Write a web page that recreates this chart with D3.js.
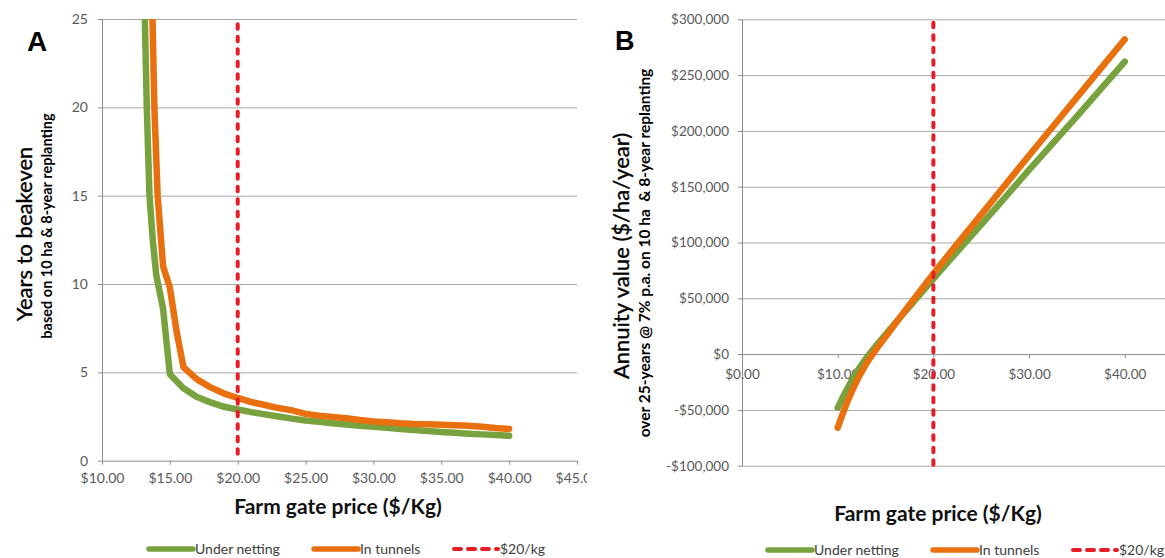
<!DOCTYPE html>
<html>
<head>
<meta charset="utf-8">
<script src="https://cdn.jsdelivr.net/npm/d3@7"></script>
<style>
body { margin: 0; background: #fff; }
svg { display: block; }
</style>
</head>
<body>
<script>
// panel A: years to breakeven
var priceNettingA = [13.1, 13.3, 13.5, 13.75, 14, 14.5, 15, 16, 17, 18, 19, 20, 21, 22, 23, 24, 25, 26, 27, 28, 29, 30, 31, 32, 33, 34, 35, 36, 37, 38, 39, 40];
var yearsNettingA = [27, 20, 15, 12.4, 10.5, 8.6, 4.9, 4.1, 3.6, 3.3, 3.05, 2.9, 2.75, 2.62, 2.5, 2.38, 2.28, 2.2, 2.12, 2.05, 1.98, 1.92, 1.86, 1.8, 1.74, 1.68, 1.63, 1.58, 1.53, 1.49, 1.45, 1.41];
var priceTunnelsA = [13.6, 13.72, 13.86, 14.1, 14.3, 14.5, 15, 15.5, 16, 17, 18, 19, 20, 21, 22, 23, 24, 25, 26, 27, 28, 29, 30, 31, 32, 33, 34, 35, 36, 37, 38, 39, 40];
var yearsTunnelsA = [28, 25, 20, 15, 13, 11, 9.8, 7.3, 5.3, 4.6, 4.15, 3.8, 3.55, 3.32, 3.15, 2.98, 2.85, 2.65, 2.55, 2.48, 2.4, 2.3, 2.22, 2.18, 2.12, 2.08, 2.06, 2.04, 2.01, 1.98, 1.92, 1.85, 1.8];

// panel B: annuity value
var priceB = [10, 11, 12, 13, 14, 15, 20, 25, 30, 35, 40];
var annuityNetting = [-48000, -31000, -16000, -3500, 7500, 17500, 67500, 116000, 165000, 213000, 262000];
var annuityTunnels = [-66000, -43000, -24000, -8500, 4000, 15500, 72000, 125000, 178000, 230000, 282000];

var ticksAx = [10, 15, 20, 25, 30, 35, 40, 45];
var ticksAy = [0, 5, 10, 15, 20, 25];
var ticksBx = [0, 10, 20, 30, 40];
var ticksBy = [-100000, -50000, 0, 50000, 100000, 150000, 200000, 250000, 300000];

var seriesNames = ["Under netting", "In tunnels", "$20/kg"];
var refPrice = 20;

var green = "#77a23e", orange = "#e8700e", red = "#e81c24";
var font = "Lato, 'Open Sans', sans-serif";

var svg = d3.select("body").append("svg")
	.attr("width", 1165)
	.attr("height", 558)
	.style("font-family", font);

function pairs(xs, ys) {
	return xs.map(function(x, i) { return [x, ys[i]]; });
}

function styleAxis(g, size) {
	g.select(".domain").attr("stroke", "#8c8c8c");
	g.selectAll(".tick line").attr("stroke", "#8c8c8c");
	g.selectAll(".tick text")
		.attr("fill", "#595959")
		.style("font-size", size + "px")
		.style("font-family", font);
}

function drawLegend(y, x0) {
	var items = [
		{name: seriesNames[0], color: green, dx: 0},
		{name: seriesNames[1], color: orange, dx: 165},
		{name: seriesNames[2], color: red, dx: 305, dash: true}
	];
	items.forEach(function(it) {
		var l = svg.append("line")
			.attr("x1", x0 + it.dx).attr("x2", x0 + it.dx + 44)
			.attr("y1", y).attr("y2", y)
			.attr("stroke", it.color)
			.attr("stroke-width", it.dash ? 4 : 5.5)
			.attr("stroke-linecap", "round");
		if (it.dash) l.attr("stroke-dasharray", "7,7");
		svg.append("text")
			.attr("x", x0 + it.dx + 46)
			.attr("y", y + 5)
			.attr("fill", "#404040")
			.style("font-size", "14px")
			.text(it.name);
	});
}

// ---------- panel A ----------
var xA = d3.scaleLinear().domain([10, 45]).range([102, 577]);
var yA = d3.scaleLinear().domain([0, 25]).range([460.7, 19]);

svg.append("clipPath").attr("id", "clipA")
	.append("rect").attr("x", 60).attr("y", 19).attr("width", 520).attr("height", 480);
svg.append("clipPath").attr("id", "clipAtext")
	.append("rect").attr("x", 60).attr("y", 0).attr("width", 527).attr("height", 500);

svg.append("g")
	.attr("transform", "translate(102,0)")
	.call(d3.axisLeft(yA).tickValues(ticksAy.slice(1)).tickSize(-475).tickFormat(""))
	.call(function(g) {
		g.select(".domain").remove();
		g.selectAll(".tick line").attr("stroke", "#a8a8a8");
	});

var gAx = svg.append("g")
	.attr("clip-path", "url(#clipAtext)")
	.append("g")
	.attr("transform", "translate(0," + yA(0) + ")")
	.call(d3.axisBottom(xA).tickValues(ticksAx).tickSize(4).tickSizeOuter(0).tickPadding(8)
		.tickFormat(function(d) { return "$" + d3.format(".2f")(d); }));
styleAxis(gAx, 14);

var gAy = svg.append("g")
	.attr("transform", "translate(102,0)")
	.call(d3.axisLeft(yA).tickValues(ticksAy).tickSize(4).tickSizeOuter(0).tickPadding(10));
styleAxis(gAy, 14);

var lineA = d3.line().x(function(d) { return xA(d[0]); }).y(function(d) { return yA(d[1]); });

var plotA = svg.append("g").attr("clip-path", "url(#clipA)");
plotA.append("path")
	.datum(pairs(priceNettingA, yearsNettingA))
	.attr("d", lineA)
	.attr("fill", "none").attr("stroke", green).attr("stroke-width", 6.5)
	.attr("stroke-linejoin", "round").attr("stroke-linecap", "round");
plotA.append("path")
	.datum(pairs(priceTunnelsA, yearsTunnelsA))
	.attr("d", lineA)
	.attr("fill", "none").attr("stroke", orange).attr("stroke-width", 6.5)
	.attr("stroke-linejoin", "round").attr("stroke-linecap", "round");

svg.append("line")
	.attr("x1", xA(refPrice)).attr("x2", xA(refPrice))
	.attr("y1", yA(24.7)).attr("y2", yA(0))
	.attr("stroke", red).attr("stroke-width", 4)
	.attr("stroke-dasharray", "4.5,8").attr("stroke-linecap", "round");

svg.append("text")
	.attr("x", 27).attr("y", 51)
	.style("font-family", "'Liberation Sans', Arial, sans-serif")
	.style("font-size", "28px").style("font-weight", "bold")
	.text("A");

svg.append("text")
	.attr("transform", "translate(32,234) rotate(-90)")
	.attr("text-anchor", "middle")
	.style("font-size", "22px")
	.attr("fill", "#000")
	.attr("stroke", "#000").attr("stroke-width", 0.35)
	.text("Years to beakeven");
svg.append("text")
	.attr("transform", "translate(52,226) rotate(-90)")
	.attr("text-anchor", "middle")
	.style("font-size", "14.5px").style("font-weight", "bold")
	.text("based on 10 ha & 8-year replanting");

svg.append("text")
	.attr("x", 338).attr("y", 514)
	.attr("text-anchor", "middle")
	.style("font-size", "21px").style("font-weight", "bold")
	.attr("fill", "#111")
	.text("Farm gate price ($/Kg)");

drawLegend(549, 149);

// ---------- panel B ----------
var xB = d3.scaleLinear().domain([0, 45]).range([742, 1172.6]);
var yB = d3.scaleLinear().domain([-100000, 300000]).range([465.7, 19.3]);

svg.append("g")
	.attr("transform", "translate(742,0)")
	.call(d3.axisLeft(yB).tickValues(ticksBy.filter(function(d) { return d !== 0; })).tickSize(-430).tickFormat(""))
	.call(function(g) {
		g.select(".domain").remove();
		g.selectAll(".tick line").attr("stroke", "#a8a8a8");
	});

var gBy = svg.append("g")
	.attr("transform", "translate(742,0)")
	.call(d3.axisLeft(yB).tickValues(ticksBy).tickSize(4).tickSizeOuter(0).tickPadding(9)
		.tickFormat(function(d) { return (d < 0 ? "-$" : "$") + d3.format(",")(Math.abs(d)); }));
styleAxis(gBy, 13.5);

var gBx = svg.append("g")
	.attr("transform", "translate(0," + yB(0) + ")")
	.call(d3.axisBottom(xB).tickValues(ticksBx).tickSize(4).tickSizeOuter(0).tickPadding(11)
		.tickFormat(function(d) { return "$" + d3.format(".2f")(d); }));
styleAxis(gBx, 13.5);
gBx.selectAll(".tick line").filter(function(d) { return d === 0; }).remove();

var lineB = d3.line()
	.x(function(d) { return xB(d[0]); })
	.y(function(d) { return yB(d[1]); })
	.curve(d3.curveMonotoneX);

svg.append("path")
	.datum(pairs(priceB, annuityNetting))
	.attr("d", lineB)
	.attr("fill", "none").attr("stroke", green).attr("stroke-width", 6.5)
	.attr("stroke-linejoin", "round").attr("stroke-linecap", "round");
svg.append("path")
	.datum(pairs(priceB, annuityTunnels))
	.attr("d", lineB)
	.attr("fill", "none").attr("stroke", orange).attr("stroke-width", 6.5)
	.attr("stroke-linejoin", "round").attr("stroke-linecap", "round");

svg.append("line")
	.attr("x1", xB(refPrice)).attr("x2", xB(refPrice))
	.attr("y1", yB(297000)).attr("y2", yB(-100000))
	.attr("stroke", red).attr("stroke-width", 4)
	.attr("stroke-dasharray", "4.5,8").attr("stroke-linecap", "round");

svg.append("text")
	.attr("x", 615).attr("y", 50)
	.style("font-family", "'Liberation Sans', Arial, sans-serif")
	.style("font-size", "27px").style("font-weight", "bold")
	.text("B");

svg.append("text")
	.attr("transform", "translate(629,256) rotate(-90)")
	.attr("text-anchor", "middle")
	.style("font-size", "22px")
	.attr("fill", "#000")
	.attr("stroke", "#000").attr("stroke-width", 0.35)
	.text("Annuity value ($/ha/year)");
svg.append("text")
	.attr("transform", "translate(650,253) rotate(-90)")
	.attr("text-anchor", "middle")
	.style("font-size", "15.5px").style("font-weight", "bold")
	.style("white-space", "pre")
	.text("over 25-years @ 7% p.a. on 10 ha  & 8-year replanting");

svg.append("text")
	.attr("x", 938).attr("y", 521)
	.attr("text-anchor", "middle")
	.style("font-size", "21px").style("font-weight", "bold")
	.attr("fill", "#111")
	.text("Farm gate price ($/Kg)");

drawLegend(550, 768);
</script>
</body>
</html>
